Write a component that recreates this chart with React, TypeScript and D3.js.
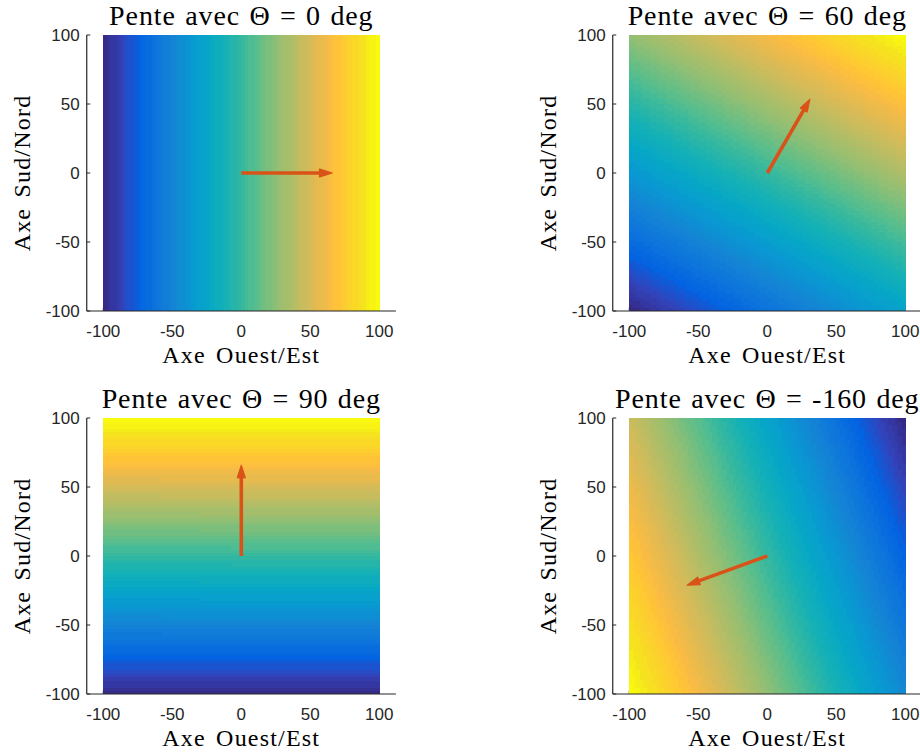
import React from 'react';
import * as d3 from 'd3';

// ---- data ----
const thetas = [0, 60, 90, -160];
const arrowLengths = [66, 62, 66, 62];
const gridX = d3.range(-100, 100.01, 2.5);
const gridY = d3.range(-100, 100.01, 2.5);
const xTicks = [-100, -50, 0, 50, 100];
const yTicks = [-100, -50, 0, 50, 100];
const titlePrefix = 'Pente avec Θ = ';
const titleSuffix = ' deg';
const xLabel = 'Axe Ouest/Est';
const yLabel = 'Axe Sud/Nord';

// parula colormap anchors (index in 64-colour map, rgb)
const parulaIdx = [0, 4, 8, 12, 16, 20, 24, 28, 32, 36, 40, 44, 48, 52, 54, 56, 60, 63];
const parulaRgb = [
  'rgb(53,42,135)', 'rgb(50,67,186)', 'rgb(3,99,225)', 'rgb(13,117,220)', 'rgb(20,133,212)',
  'rgb(9,152,209)', 'rgb(6,167,198)', 'rgb(21,177,180)', 'rgb(56,185,158)', 'rgb(101,190,134)',
  'rgb(146,191,115)', 'rgb(183,189,100)', 'rgb(217,186,86)', 'rgb(248,187,68)', 'rgb(255,195,55)',
  'rgb(252,206,46)', 'rgb(245,228,29)', 'rgb(249,251,14)',
];

const W = 920;
const H = 756;
const SIZE = 276;
const colLeft = [103.3, 629.3];
const rowTop = [35, 418];
const axisColor = '#262626';
const arrowColor = '#D95319';
const sansFont = '"Liberation Sans", Arial, Helvetica, sans-serif';
const serifFont = '"Liberation Serif", "Times New Roman", serif';

const parula = d3.scaleLinear<string>().domain(parulaIdx).range(parulaRgb).interpolate(d3.interpolateRgb);

function Panel({ k }: { k: number }) {
  const theta = thetas[k];
  const col = k % 2;
  const row = Math.floor(k / 2);
  const left = colLeft[col];
  const top = rowTop[row];
  const x = d3.scaleLinear().domain([-100, 100]).range([left, left + SIZE]);
  const y = d3.scaleLinear().domain([-100, 100]).range([top + SIZE, top]);
  const rad = (theta * Math.PI) / 180;
  const c = Math.cos(rad);
  const s = Math.sin(rad);
  const z = (xx: number, yy: number) => xx * c + yy * s;
  const zs: number[] = [];
  gridX.forEach((xx) => gridY.forEach((yy) => zs.push(z(xx, yy))));
  const [zmin, zmax] = d3.extent(zs) as [number, number];
  const idx = d3.scaleQuantize<number>().domain([zmin, zmax]).range(d3.range(64));

  const cells: JSX.Element[] = [];
  for (let i = 0; i < gridX.length - 1; i++) {
    for (let j = 0; j < gridY.length - 1; j++) {
      const v = z((gridX[i] + gridX[i + 1]) / 2, (gridY[j] + gridY[j + 1]) / 2);
      const x0 = x(gridX[i]);
      const x1 = x(gridX[i + 1]);
      const y0 = y(gridY[j + 1]);
      const y1 = y(gridY[j]);
      cells.push(
        <rect key={`${i}-${j}`} x={x0} y={y0} width={x1 - x0 + 0.4} height={y1 - y0 + 0.4} fill={parula(idx(v))} />
      );
    }
  }

  const axisX = x(-112);
  const axisRight = x(112);
  const bottom = y(-100);

  // arrow
  const L = arrowLengths[k];
  const ox = x(0), oy = y(0);
  const tx = x(L * c), ty = y(L * s);
  const dx = tx - ox, dy = ty - oy;
  const len = Math.hypot(dx, dy);
  const ux = dx / len, uy = dy / len;
  const headL = 13, headW = 4.2;
  const bx = tx - ux * headL, by = ty - uy * headL;
  const px = -uy, py = ux;
  const head = `${tx},${ty} ${bx + px * headW},${by + py * headW} ${bx - px * headW},${by - py * headW}`;

  return (
    <g>
      {xTicks.map((t) => (
        <line key={'xt' + t} x1={x(t)} x2={x(t)} y1={bottom} y2={bottom - 3.5} stroke={axisColor} strokeWidth={1} />
      ))}
      {yTicks.map((t) => (
        <line key={'yt' + t} x1={axisX} x2={axisX + 3.5} y1={y(t)} y2={y(t)} stroke={axisColor} strokeWidth={1} />
      ))}
      <g shapeRendering="crispEdges">{cells}</g>
      <line x1={axisX} x2={axisX} y1={top} y2={bottom} stroke={axisColor} strokeWidth={1.2} />
      <line x1={axisX} x2={axisRight} y1={bottom} y2={bottom} stroke={axisColor} strokeWidth={1.2} />
      {xTicks.map((t) => (
        <text key={'xl' + t} x={x(t)} y={bottom + 26} textAnchor="middle" fontFamily={sansFont} fontSize={17} fill={axisColor}>
          {t}
        </text>
      ))}
      {yTicks.map((t) => (
        <text key={'yl' + t} x={axisX - 7} y={y(t)} dy="0.36em" textAnchor="end" fontFamily={sansFont} fontSize={17} fill={axisColor}>
          {t}
        </text>
      ))}
      <text x={x(0)} y={bottom + 52} textAnchor="middle" fontFamily={serifFont} fontSize={24} letterSpacing={1.2} wordSpacing={3} fill="#000">
        {xLabel}
      </text>
      <text
        transform={`translate(${axisX - 57},${y(0)}) rotate(-90)`}
        textAnchor="middle"
        fontFamily={serifFont}
        fontSize={24}
        letterSpacing={1.2}
        wordSpacing={3}
        fill="#000"
      >
        {yLabel}
      </text>
      <text x={x(0)} y={top - 10.5} textAnchor="middle" fontFamily={serifFont} fontSize={28} letterSpacing={0.9} wordSpacing={1.5} fill="#000">
        {titlePrefix + theta + titleSuffix}
      </text>
      <line x1={ox} y1={oy} x2={bx + ux * 1} y2={by + uy * 1} stroke={arrowColor} strokeWidth={3.6} />
      <polygon points={head} fill={arrowColor} stroke={arrowColor} strokeWidth={1} strokeLinejoin="miter" />
    </g>
  );
}

export default function App() {
  return (
    <svg width={W} height={H} style={{ position: 'absolute', left: 0, top: 0, background: '#fff' }}>
      <rect width={W} height={H} fill="#fff" />
      {thetas.map((_, k) => (
        <Panel key={k} k={k} />
      ))}
    </svg>
  );
}
